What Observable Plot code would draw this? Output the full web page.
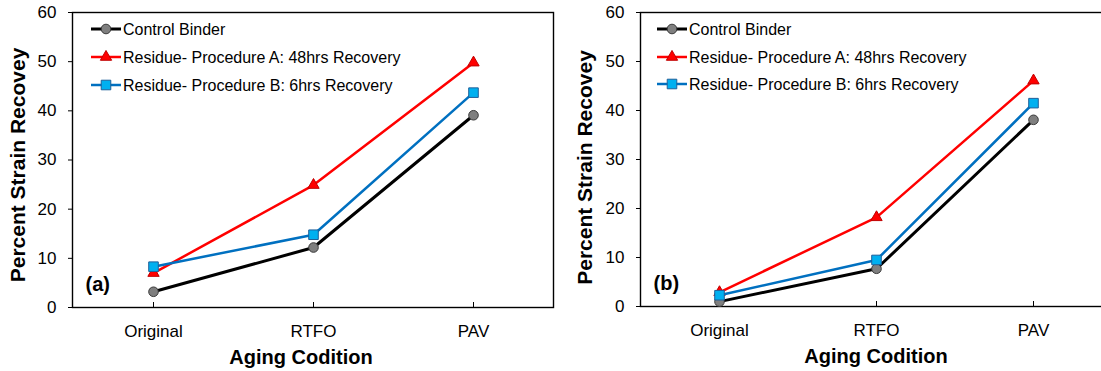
<!DOCTYPE html>
<html>
<head>
<meta charset="utf-8">
<script src="https://cdn.jsdelivr.net/npm/d3@7"></script>
<script src="https://cdn.jsdelivr.net/npm/@observablehq/plot@0.6"></script>
<style>
  html, body { margin: 0; padding: 0; background: #fff; overflow: hidden; }
  #wrap { position: relative; width: 1101px; height: 371px; overflow: hidden; font-family: "Liberation Sans", Arial, sans-serif; }
  .panel { position: absolute; top: 0; }
  .panel svg { max-width: none !important; }
</style>
</head>
<body>
<div id="wrap">
  <div id="pa" class="panel" style="left:0px;width:560px"></div>
  <div id="pb" class="panel" style="left:550px;width:561px"></div>
</div>
<script>
// ---- data ----
const categories = ["Original", "RTFO", "PAV"];
const seriesNames = [
  "Control Binder",
  "Residue- Procedure A: 48hrs Recovery",
  "Residue- Procedure B: 6hrs Recovery"
];
const yTicks = [0, 10, 20, 30, 40, 50, 60];

// Panel (a)
const controlA = [3.2, 12.2, 39.1];
const procAA   = [7.0, 24.9, 49.8];
const procBA   = [8.3, 14.8, 43.7];
// Panel (b)
const controlB = [1.0, 7.7, 38.1];
const procAB   = [2.9, 18.2, 46.1];
const procBB   = [2.3, 9.5, 41.5];

const xTitle = "Aging Codition";
const yTitle = "Percent Strain Recovey";

// ---- styles ----
const styles = [
  {line: "#000000", lineWidth: 3, symbol: "circle", fill: "#7f7f7f", stroke: "#3a3a3a", r: 4.8},
  {line: "#ff0000", lineWidth: 2.5, symbol: "triangle", fill: "#ff0000", stroke: "#c00000", r: 4.2},
  {line: "#0070c0", lineWidth: 2.5, symbol: "square", fill: "#00b0f0", stroke: "#1f5f99", r: 5.4}
];
const FONT = "Liberation Sans, Arial, sans-serif";

function makePanel(el, seriesVals, tag, cfg) {
  const rows = [];
  seriesVals.forEach((vals, s) => {
    categories.forEach((c, i) => rows.push({series: seriesNames[s], s, cat: c, value: vals[i]}));
  });
  const innerH = cfg.height - cfg.marginTop - cfg.marginBottom;
  const marks = [
    Plot.frame({stroke: "#000", strokeWidth: 1.4}),
    Plot.axisY({ticks: yTicks, tickSize: 4, tickPadding: 12, fontSize: 17, label: null, tickFormat: d => String(d)}),
    Plot.axisX({tickSize: 0, tickPadding: 17, fontSize: 17, label: null}),
    Plot.tickX(categories, {x: d => d, stroke: "#000", strokeWidth: 1, insetTop: innerH - 5}),
    Plot.text([yTitle], {frameAnchor: "left", dx: cfg.yTitleDx, dy: cfg.yTitleDy, rotate: -90, textAnchor: "middle",
      lineAnchor: "middle", fontSize: 21, fontWeight: "bold", fill: "#000", fontFamily: FONT}),
    Plot.text([xTitle], {frameAnchor: "bottom", dx: cfg.xTitleDx, dy: 50, textAnchor: "middle",
      lineAnchor: "middle", fontSize: 20, fontWeight: "bold", fill: "#000", fontFamily: FONT}),
    Plot.text([tag], {frameAnchor: "bottom-left", dx: cfg.tagDx, dy: -23, textAnchor: "start",
      lineAnchor: "middle", fontSize: 20, fontWeight: "bold", fill: "#000", fontFamily: FONT})
  ];
  styles.forEach((st, s) => {
    const d = rows.filter(r => r.s === s);
    marks.push(Plot.line(d, {x: "cat", y: "value", stroke: st.line, strokeWidth: st.lineWidth, strokeLinejoin: "round"}));
    marks.push(Plot.dot(d, {x: "cat", y: "value", symbol: () => st.symbol, r: st.r, fill: st.fill, stroke: st.stroke, strokeWidth: 1}));
  });
  const chart = Plot.plot({
    width: cfg.width, height: cfg.height,
    marginLeft: cfg.marginLeft, marginRight: cfg.marginRight,
    marginTop: cfg.marginTop, marginBottom: cfg.marginBottom,
    style: {fontFamily: FONT, color: "#000", background: "transparent", overflow: "visible", maxWidth: "none"},
    x: {type: "point", domain: categories, padding: 0.5},
    y: {domain: [0, 60]},
    symbol: {domain: ["circle", "triangle", "square"], range: ["circle", "triangle", "square"]},
    marks
  });
  chart.style.maxWidth = "none";
  el.appendChild(chart);

  // legend inside the frame (top-left)
  const svg = d3.select(chart);
  const g = svg.append("g").attr("transform", `translate(${cfg.marginLeft},0)`).attr("text-anchor", "start");
  seriesNames.forEach((name, s) => {
    const st = styles[s];
    const y = cfg.legendY[s];
    g.append("line").attr("x1", cfg.legendX0).attr("x2", cfg.legendX0 + 30).attr("y1", y).attr("y2", y)
      .attr("stroke", st.line).attr("stroke-width", st.lineWidth);
    const sym = st.symbol === "circle" ? d3.symbolCircle : st.symbol === "square" ? d3.symbolSquare : d3.symbolTriangle;
    g.append("path").attr("d", d3.symbol(sym, Math.PI * st.r * st.r)())
      .attr("transform", `translate(${cfg.legendX0 + 15},${y})`)
      .attr("fill", st.fill).attr("stroke", st.stroke).attr("stroke-width", 1);
    g.append("text").attr("x", cfg.legendX0 + 32).attr("y", y).attr("dy", "0.35em")
      .attr("text-anchor", "start")
      .attr("font-size", 16).attr("font-family", FONT).attr("fill", "#000").text(name);
  });
}

makePanel(document.getElementById("pa"), [controlA, procAA, procBA], "(a)", {
  width: 560, height: 371, marginLeft: 72, marginRight: 7, marginTop: 12, marginBottom: 64,
  yTitleDx: -54, yTitleDy: 5, xTitleDx: -12, tagDx: 13, legendX0: 19, legendY: [29, 57, 85]
});
makePanel(document.getElementById("pb"), [controlB, procAB, procBB], "(b)", {
  width: 561, height: 371, marginLeft: 90, marginRight: 0, marginTop: 12, marginBottom: 65,
  yTitleDx: -55, yTitleDy: 8, xTitleDx: 0, tagDx: 13, legendX0: 17, legendY: [29, 57, 84]
});
</script>
</body>
</html>
